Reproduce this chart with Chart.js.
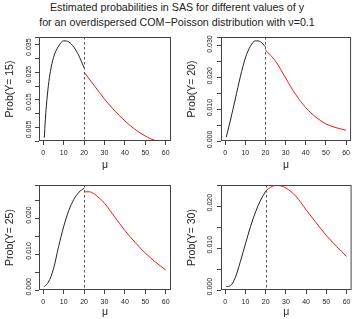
<!DOCTYPE html>
<html><head><meta charset="utf-8">
<script src="https://cdn.jsdelivr.net/npm/chart.js@4/dist/chart.umd.min.js"></script>
<style>
html,body{margin:0;padding:0;background:#fff;}
#wrap{position:relative;width:354px;height:319px;overflow:hidden;font-family:"Liberation Sans",Arial,sans-serif;color:#222;}
.t{position:absolute;left:0;width:354px;text-align:center;font-size:10.7px;line-height:13px;white-space:nowrap;}
canvas{position:absolute;}
</style></head><body>
<div id="wrap">
<div class="t" style="top:1px">Estimated probabilities in SAS for different values of y</div>
<div class="t" style="top:16px">for an overdispersed COM−Poisson distribution with ν=0.1</div>
<canvas id="c1" width="177" height="150" style="left:0;top:28px"></canvas>
<canvas id="c2" width="177" height="150" style="left:177px;top:28px"></canvas>
<canvas id="c3" width="177" height="141" style="left:0;top:178px"></canvas>
<canvas id="c4" width="177" height="141" style="left:177px;top:178px"></canvas>
</div>
<script>
// ---- data ----
const yValues = [15, 20, 25, 30];
const muTicks = [0, 10, 20, 30, 40, 50, 60];
const cutoffMu = 20;

const blackMu15 = [0.5, 1, 1.5, 2.5, 3.5, 5, 7.5, 10, 12.5, 15, 17.5, 20];
const blackProb15 = [0.0020, 0.0085, 0.0135, 0.0210, 0.0262, 0.0312, 0.0354, 0.0373, 0.0369, 0.0350, 0.0318, 0.0274];
const redMu15 = [20, 25, 30, 35, 40, 45, 50, 55, 60];
const redProb15 = [0.0259, 0.0210, 0.0161, 0.0118, 0.0081, 0.0050, 0.0026, 0.0009, 0.0000];

const blackMu20 = [0.5, 2.5, 5, 7.5, 10, 12.5, 15, 17.5, 20];
const blackProb20 = [0.0007, 0.0058, 0.0127, 0.0197, 0.0256, 0.0293, 0.0310, 0.0307, 0.0291];
const redMu20 = [20, 25, 30, 35, 40, 45, 50, 55, 60];
const redProb20 = [0.0281, 0.0246, 0.0193, 0.0141, 0.0100, 0.0070, 0.0049, 0.0037, 0.0029];

const blackMu25 = [0.5, 2.5, 5, 7.5, 10, 12.5, 15, 17.5, 20];
const blackProb25 = [0.0000, 0.0013, 0.0050, 0.0112, 0.0168, 0.0213, 0.0244, 0.0264, 0.0275];
const redMu25 = [20, 22.5, 25, 30, 35, 40, 45, 50, 55, 60];
const redProb25 = [0.0265, 0.0265, 0.0259, 0.0233, 0.0195, 0.0157, 0.0124, 0.0094, 0.0069, 0.0047];

const blackMu30 = [0.5, 2.5, 5, 7.5, 10, 12.5, 15, 17.5, 20];
const blackProb30 = [0.0000, 0.0002, 0.0022, 0.0060, 0.0102, 0.0143, 0.0178, 0.0206, 0.0227];
const redMu30 = [20, 22.5, 25, 27.5, 30, 35, 40, 45, 50, 55, 60];
const redProb30 = [0.0228, 0.0237, 0.0241, 0.0240, 0.0235, 0.0215, 0.0183, 0.0152, 0.0122, 0.0096, 0.0072];

const yLabels15 = [0.005, 0.015, 0.025, 0.035];
const yLabels20 = [0.000, 0.010, 0.020, 0.030];
const yLabels25 = [0.000, 0.010, 0.020];
const yLabels30 = [0.000, 0.010, 0.020];

// ---- drawing ----
Chart.defaults.font.family = '"Liberation Sans", Arial, sans-serif';
Chart.defaults.color = '#222';

const pts = (xs, ys) => xs.map((x, i) => ({x: x, y: ys[i]}));

function makePanel(id, cfg) {
  const boxPlugin = {
    id: 'rbox',
    afterDraw(chart) {
      const ctx = chart.ctx, a = chart.chartArea;
      const xs = chart.scales.x, ys = chart.scales.y;
      ctx.save();
      // dashed vertical reference line
      const xv = Math.round(xs.getPixelForValue(cutoffMu)) + 0.5;
      ctx.strokeStyle = '#555'; ctx.lineWidth = 1; ctx.setLineDash([2.5, 2.5]);
      ctx.beginPath(); ctx.moveTo(xv, a.top); ctx.lineTo(xv, a.bottom); ctx.stroke();
      ctx.setLineDash([]);
      // box
      ctx.strokeStyle = '#444';
      ctx.strokeRect(a.left + 0.5, a.top + 0.5, a.right - a.left - 1, a.bottom - a.top - 1);
      // rotated y tick labels
      ctx.fillStyle = '#222';
      ctx.font = '7px "Liberation Sans", Arial, sans-serif';
      ctx.textAlign = 'center'; ctx.textBaseline = 'middle';
      cfg.yLabels.forEach(v => {
        const py = ys.getPixelForValue(v);
        ctx.save();
        ctx.translate(a.left - cfg.yLabOff, py);
        ctx.rotate(-Math.PI / 2);
        ctx.fillText(v.toFixed(3), 0, 0);
        ctx.restore();
      });
      // x axis title
      ctx.font = '10.5px "Liberation Sans", Arial, sans-serif';
      ctx.fillText('μ', (a.left + a.right) / 2, a.bottom + cfg.xTitleDy);
      ctx.restore();
    }
  };
  return new Chart(document.getElementById(id), {
    type: 'scatter',
    data: {
      datasets: [
        {data: pts(cfg.bx, cfg.by), showLine: true, borderColor: '#222', borderWidth: 1, pointRadius: 0, cubicInterpolationMode: 'monotone', clip: 0},
        {data: pts(cfg.rx, cfg.ry), showLine: true, borderColor: '#f01818', borderWidth: 1, pointRadius: 0, cubicInterpolationMode: 'monotone', clip: 0}
      ]
    },
    options: {
      responsive: false, animation: false,
      layout: {padding: {left: 0, right: cfg.padRight, top: cfg.padTop, bottom: 0}},
      plugins: {legend: {display: false}, tooltip: {enabled: false}},
      scales: {
        x: {
          type: 'linear', bounds: 'data', min: cfg.xmin, max: cfg.xmax,
          afterBuildTicks: s => { s.ticks = muTicks.map(v => ({value: v})); },
          ticks: {stepSize: 10, includeBounds: false, maxRotation: 0, autoSkip: false, padding: cfg.xPad, font: {size: 7}, color: '#222'},
          grid: {drawOnChartArea: false, drawTicks: true, tickLength: 4, color: '#444'},
          border: {display: false},
          title: {display: false},
          afterFit: s => { s.height = cfg.xHeight; }
        },
        y: {
          type: 'linear', bounds: 'data', min: cfg.ymin, max: cfg.ymax,
          ticks: {stepSize: 0.005, includeBounds: false, display: false},
          grid: {drawOnChartArea: false, drawTicks: true, tickLength: 4, color: '#444'},
          border: {display: false},
          title: {display: true, text: 'Prob(Y= ' + cfg.yv + ')', font: {size: 10.5}, color: '#222', padding: {top: cfg.yTitlePad, bottom: 0}},
          afterFit: s => { s.width = cfg.yWidth; }
        }
      }
    },
    plugins: [boxPlugin]
  });
}

makePanel('c1', {yv: yValues[0], bx: blackMu15, by: blackProb15, rx: redMu15, ry: redProb15, yLabels: yLabels15,
  xmin: -2.1, xmax: 62.6, ymin: 0.0008, ymax: 0.0387, padTop: 9, padRight: 6, yWidth: 39, xHeight: 37,
  xPad: 4, xTitleDy: 23.7, yTitlePad: 3.7, yLabOff: 9.7});
makePanel('c2', {yv: yValues[1], bx: blackMu20, by: blackProb20, rx: redMu20, ry: redProb20, yLabels: yLabels20,
  xmin: -2.1, xmax: 62.5, ymin: -0.0005, ymax: 0.0322, padTop: 9, padRight: 2, yWidth: 44, xHeight: 37,
  xPad: 4, xTitleDy: 23.7, yTitlePad: 8.4, yLabOff: 11.4});
makePanel('c3', {yv: yValues[2], bx: blackMu25, by: blackProb25, rx: redMu25, ry: redProb25, yLabels: yLabels25,
  xmin: -2.1, xmax: 62.6, ymin: -0.0009, ymax: 0.0284, padTop: 7, padRight: 6, yWidth: 39, xHeight: 29,
  xPad: 3.5, xTitleDy: 22, yTitlePad: 3.7, yLabOff: 9.7});
makePanel('c4', {yv: yValues[3], bx: blackMu30, by: blackProb30, rx: redMu30, ry: redProb30, yLabels: yLabels30,
  xmin: -2.1, xmax: 62.5, ymin: -0.0008, ymax: 0.0242, padTop: 7, padRight: 2, yWidth: 44, xHeight: 29,
  xPad: 3.5, xTitleDy: 22, yTitlePad: 8.4, yLabOff: 11.4});
</script>
</body></html>
